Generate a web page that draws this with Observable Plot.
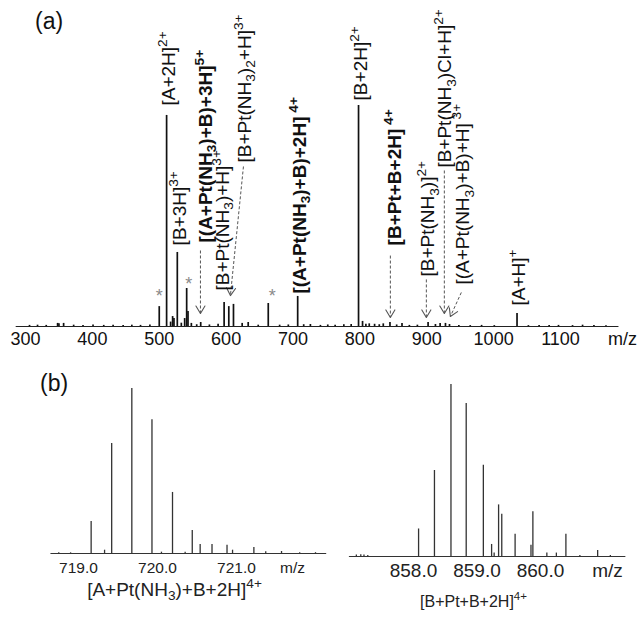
<!DOCTYPE html>
<html>
<head>
<meta charset="utf-8">
<script src="https://cdn.jsdelivr.net/npm/d3@7"></script>
<script src="https://cdn.jsdelivr.net/npm/@observablehq/plot@0.6"></script>
<style>
  html,body{margin:0;padding:0;background:#fff;}
  #fig{position:relative;width:644px;height:623px;overflow:hidden;background:#fff;font-family:"Liberation Sans",Arial,sans-serif;color:#111;}
  #fig svg{position:absolute;overflow:visible;}
  .tag{position:absolute;font-size:23px;line-height:1;color:#111;}
</style>
</head>
<body>
<div id="fig">
  <div class="tag" style="left:35px;top:10px">(a)</div>
  <div class="tag" style="left:40px;top:372px">(b)</div>
</div>
<script>
// ================= DATA =================
// Panel (a): full-range spectrum (m/z, relative intensity %)
const mzA  = [306,318,331,348,350,357,372,386,401,417,431,446,459,472,486,500,511,517,520,522,527,533,538,541,543,548,556,562,575,588,597,604,611,624,633,648,663,680,693,707,716,726,741,752,763,776,787,798,804,809,814,822,829,835,845,855,863,874,886,902,913,920,928,934,948,965,982,1001,1035,1052,1068,1083,1097,1118,1133,1150,1168];
const intA = [0.5,0.6,0.5,1.4,1.2,1.4,0.6,0.5,0.7,0.5,0.6,0.5,0.6,0.5,0.7,9.0,95.5,2.0,4.5,3.6,33.5,1.5,3.6,17.2,6.8,1.4,0.8,1.8,0.7,1.0,10.9,9.0,10.0,1.4,1.8,0.6,10.4,0.6,0.7,13.6,0.8,0.9,0.5,0.7,0.6,0.8,0.9,100,2.3,1.0,1.2,1.0,0.8,1.2,1.8,0.7,1.4,0.5,0.6,1.8,0.9,1.4,1.4,0.9,0.5,0.4,0.5,0.4,5.9,0.4,0.4,0.5,0.5,0.4,0.6,0.4,0.3];
const spanA = [286, 1186];                 // acquired m/z range (baseline)
const ticksA = [300,400,500,600,700,800,900,1000,1100];
const starMzA = [500, 544, 669];
const starLvA = [15.4, 20.8, 15.4];
const labelTextA = ["[A+2H]^{2+}","[B+3H]^{3+}","[(A+Pt(NH_{3})+B)+3H]^{5+}","[B+Pt(NH_{3})+H]^{3+}","[B+Pt(NH_{3})_{2}+H]^{3+}","[(A+Pt(NH_{3})+B)+2H]\u2009^{4+}","[B+2H]^{2+}","[B+Pt+B+2H]\u2009^{4+}","[B+Pt(NH_{3})]^{2+}","[B+Pt(NH_{3})Cl+H]^{2+}","[(A+Pt(NH_{3})+B)+H]\u2009^{3+}","[A+H]^{+}"];
const labelMzA   = [513.7, 530.2, 569.1, 594.5, 627.4, 709.6, 802.2, 853.1, 902.4, 927.8, 954.7, 1038.4];
const labelLvA   = [100, 36.7, 38.0, 16.3, 74.2, 14.9, 102.3, 36.7, 22.6, 71.9, 19.0, 9.5];
const labelBoldA = [false,false,true,false,false,true,false,true,false,false,false,false];
const arrowMz1A = [561.6, 625.9, 845.6, 899.4, 926.3, 951.7];
const arrowLv1A = [34.4, 72.4, 32.1, 21.3, 70.6, 15.4];
const arrowMz2A = [561.6, 606.4, 845.6, 899.4, 926.3, 935.3];
const arrowLv2A = [5.9, 14.0, 4.1, 4.1, 5.9, 4.5];
const arrowRotA = [0, 5, 0, 0, 0, 24.6];

// Panel (b) left: isotope pattern of [A+Pt(NH3)+B+2H]4+
const mzL  = [718.75,718.90,719.16,719.33,719.42,719.675,719.93,720.05,720.19,720.35,720.44,720.54,720.69,720.88,720.95,721.22,721.37,721.57,721.80,722.00];
const intL = [0.4,0.4,19.4,2.0,66.7,100,81,0.8,37,0.8,14,5.5,5.5,5.0,2.0,3.6,1.0,1.2,0.5,0.5];
const spanL = [718.65, 722.13];
const ticksL = [719, 720, 721];
const captionL = "[A+Pt(NH_{3})+B+2H]^{4+}";

// Panel (b) right: isotope pattern of [B+Pt+B+2H]4+
const mzR  = [857.10,857.17,857.22,857.28,858.08,858.33,858.59,858.83,859.10,859.23,859.27,859.34,859.39,859.60,859.85,859.88,860.10,860.25,860.40,860.62,860.90,861.10];
const intR = [0.8,1.0,0.8,0.6,16,50,100,89,53,7,2,30,24.5,13,6.5,26,2,2,13,0.6,3.5,0.6];
const spanR = [856.99, 861.33];
const ticksR = [858, 859, 860];
const captionR = "[B+Pt+B+2H]^{4+}";

// ================= HELPERS =================
const FONT = '"Liberation Sans", Arial, sans-serif';
const rows = (xs, ys) => xs.map((x, i) => ({mz: x, i: ys[i]}));
const chevron = {draw(ctx) { ctx.moveTo(-4.5, -7.5); ctx.lineTo(0, 0); ctx.lineTo(4.5, -7.5); }};

function richText(svg) {
  d3.select(svg).selectAll("text").each(function() {
    const raw = this.textContent;
    if (!/[\^_]\{/.test(raw)) return;
    const parts = raw.match(/\^\{[^}]*\}|_\{[^}]*\}|[^\^_]+/g);
    while (this.firstChild) this.removeChild(this.firstChild);
    let cur = 0;
    for (const p of parts) {
      let txt = p, ratio = 1, target = 0;
      if (p.startsWith("^{")) { txt = p.slice(2, -1); ratio = 0.72; target = -0.42; }
      else if (p.startsWith("_{")) { txt = p.slice(2, -1); ratio = 0.72; target = 0.22; }
      const ts = document.createElementNS("http://www.w3.org/2000/svg", "tspan");
      if (ratio !== 1) ts.style.fontSize = ratio + "em";
      const d = (target - cur) / ratio;
      if (Math.abs(d) > 1e-6) ts.setAttribute("dy", d.toFixed(3) + "em");
      ts.textContent = txt;
      this.appendChild(ts);
      cur = target;
    }
  });
}

function place(svg, left, top) {
  svg.style.left = left + "px";
  svg.style.top = top + "px";
  document.getElementById("fig").appendChild(svg);
  richText(svg);
}

// ================= PANEL (a) =================
const specA = rows(mzA, intA);
const labelsA = labelTextA.map((t, k) => ({t, mz: labelMzA[k], lv: labelLvA[k], bold: labelBoldA[k]}));
const arrowsA = arrowMz1A.map((x1, k) => ({x1, y1: arrowLv1A[k], x2: arrowMz2A[k], y2: arrowLv2A[k], rot: arrowRotA[k]}));
const starsA = starMzA.map((mz, k) => ({mz, lv: starLvA[k]}));

const svgA = Plot.plot({
  width: 644, height: 350,
  marginLeft: 25, marginRight: 84, marginTop: 105, marginBottom: 24,
  style: {fontFamily: FONT, fontSize: "18px", color: "#111", background: "transparent", overflow: "visible"},
  x: {domain: [300, 1100], ticks: ticksA, tickSize: 0, tickPadding: 5.5, tickFormat: d => String(d), label: null},
  y: {domain: [0, 100], axis: null},
  marks: [
    Plot.lineY(spanA.map(mz => ({mz, i: 0})), {x: "mz", y: "i", stroke: "#222", strokeWidth: 1.2}),
    Plot.ruleX(specA, {x: "mz", y1: 0, y2: "i", stroke: "#111", strokeWidth: 1.7}),
    Plot.text(starsA, {x: "mz", y: "lv", text: () => "*", fill: "#8a8a8a", fontSize: 18, dy: 4}),
    Plot.link(arrowsA, {x1: "x1", y1: "y1", x2: "x2", y2: "y2", stroke: "#555", strokeWidth: 1, strokeDasharray: "3,2"}),
    Plot.vector(arrowsA, {x: "x2", y: "y2", rotate: "rot", length: 8, anchor: "start", shape: chevron, stroke: "#555", strokeWidth: 1.1}),
    Plot.text(labelsA.filter(d => !d.bold), {x: "mz", y: "lv", text: "t", rotate: -90, textAnchor: "start", fontSize: 19, fill: "#111"}),
    Plot.text(labelsA.filter(d => d.bold), {x: "mz", y: "lv", text: "t", rotate: -90, textAnchor: "start", fontSize: 19, fontWeight: "bold", fill: "#111"}),
    Plot.text(["m/z"], {frameAnchor: "bottom-right", text: d => d, dx: 62, dy: 5.5, lineAnchor: "top", textAnchor: "middle", fontSize: 18, fill: "#111"})
  ]
});
place(svgA, 0, 0);

// ================= PANEL (b) left =================
const svgL = Plot.plot({
  width: 322, height: 283,
  marginLeft: 78, marginRight: 86, marginTop: 48, marginBottom: 70,
  style: {fontFamily: FONT, fontSize: "15.5px", color: "#222", background: "transparent", overflow: "visible"},
  x: {domain: [719, 721], ticks: ticksL, tickSize: 0, tickPadding: 8.4, tickFormat: d => d.toFixed(1), label: null},
  y: {domain: [0, 100], axis: null},
  marks: [
    Plot.lineY(spanL.map(mz => ({mz, i: 0})), {x: "mz", y: "i", stroke: "#333", strokeWidth: 1.1}),
    Plot.ruleX(rows(mzL, intL), {x: "mz", y1: 0, y2: "i", stroke: "#333", strokeWidth: 1.3}),
    Plot.text(["m/z"], {frameAnchor: "bottom-right", text: d => d, dx: 56, dy: 8.4, lineAnchor: "top", textAnchor: "middle", fontSize: 15.5, fill: "#222"}),
    Plot.text([captionL], {frameAnchor: "bottom", text: d => d, dx: 17, dy: 42, fontSize: 19, fill: "#222"})
  ]
});
place(svgL, 0, 340);

// ================= PANEL (b) right =================
const svgR = Plot.plot({
  width: 322, height: 283,
  marginLeft: 91, marginRight: 104, marginTop: 44, marginBottom: 67,
  style: {fontFamily: FONT, fontSize: "19px", color: "#222", background: "transparent", overflow: "visible"},
  x: {domain: [858, 860], ticks: ticksR, tickSize: 0, tickPadding: 7.2, tickFormat: d => d.toFixed(1), label: null},
  y: {domain: [0, 100], axis: null},
  marks: [
    Plot.lineY(spanR.map(mz => ({mz, i: 0})), {x: "mz", y: "i", stroke: "#333", strokeWidth: 1.1}),
    Plot.ruleX(rows(mzR, intR), {x: "mz", y1: 0, y2: "i", stroke: "#333", strokeWidth: 1.3}),
    Plot.text(["m/z"], {frameAnchor: "bottom-right", text: d => d, dx: 67, dy: 7.2, lineAnchor: "top", textAnchor: "middle", fontSize: 19, fill: "#222"}),
    Plot.text([captionR], {frameAnchor: "bottom", text: d => d, dx: -3.5, dy: 50, fontSize: 16, fill: "#222"})
  ]
});
place(svgR, 322, 340);
</script>
</body>
</html>
